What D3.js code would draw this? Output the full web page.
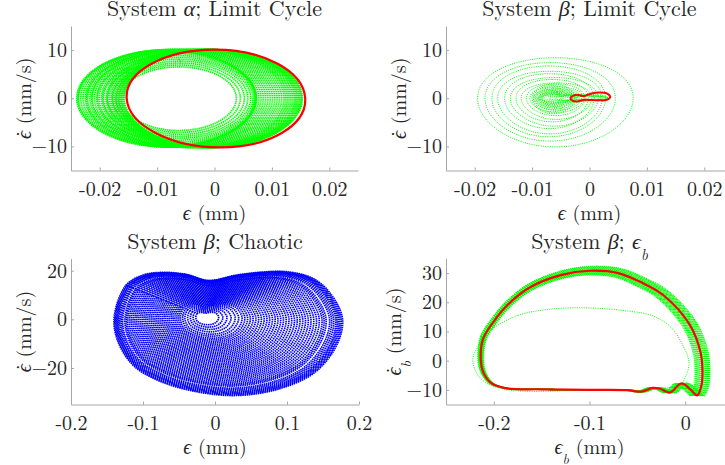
<!DOCTYPE html>
<html>
<head>
<meta charset="utf-8">
<script src="https://cdn.jsdelivr.net/npm/d3@7"></script>
<style>
body { margin: 0; background: #fff; }
</style>
</head>
<body>
<svg id="chart" width="725" height="465"></svg>
<script>
// ---- data ----

// System alpha, limit cycle: transient loops, extreme points of each loop
const alphaLeft = [-0.0162, -0.0167, -0.0172, -0.0178, -0.0187, -0.0195, -0.0204, -0.0214, -0.0223,
  -0.0238, -0.0240, -0.0237, -0.0233, -0.0229, -0.0225, -0.0221, -0.0217, -0.0213, -0.0209,
  -0.0205, -0.0201, -0.0197, -0.0193, -0.0189, -0.0186, -0.0183, -0.0180, -0.0177, -0.0174,
  -0.0171, -0.0169, -0.0167, -0.0165, -0.0163, -0.0161, -0.0159, -0.0158, -0.0157];
const alphaRight = [0.0038, 0.0045, 0.0052, 0.0058, 0.0063, 0.0067, 0.0070, 0.0072, 0.0073,
  0.0072, 0.0070, 0.0073, 0.0077, 0.0081, 0.0085, 0.0089, 0.0093, 0.0097, 0.0101,
  0.0105, 0.0109, 0.0113, 0.0117, 0.0121, 0.0124, 0.0127, 0.0130, 0.0133, 0.0136,
  0.0139, 0.0141, 0.0143, 0.0145, 0.0147, 0.0149, 0.0151, 0.0152, 0.0153];
const alphaTop = [6.5, 6.9, 7.3, 7.7, 8.1, 8.5, 8.9, 9.3, 9.6,
  9.9, 10.0, 10.1, 10.1, 10.1, 10.1, 10.1, 10.1, 10.1, 10.1,
  10.1, 10.1, 10.1, 10.1, 10.1, 10.1, 10.1, 10.1, 10.1, 10.1,
  10.1, 10.1, 10.1, 10.1, 10.1, 10.1, 10.1, 10.1, 10.1];
const alphaBottom = [-6.7, -7.1, -7.5, -7.9, -8.3, -8.7, -9.1, -9.5, -9.8,
  -10.0, -10.1, -10.1, -10.1, -10.1, -10.1, -10.1, -10.1, -10.1, -10.1,
  -10.2, -10.2, -10.2, -10.2, -10.2, -10.2, -10.2, -10.2, -10.2, -10.2,
  -10.2, -10.2, -10.2, -10.2, -10.2, -10.2, -10.2, -10.2, -10.2];
// limit cycle: left, top, right, bottom points
const alphaCycleX = [-0.0153, 0.0000, 0.0158, 0.0010];
const alphaCycleY = [0.0, 10.1, 0.0, -10.2];

// System beta, limit cycle: spiral loops
const betaLeft = [-0.0195, -0.0182, -0.0170, -0.0160, -0.0148, -0.0138, -0.0128, -0.0119, -0.0110,
  -0.0104, -0.0100, -0.0098, -0.0097, -0.0095, -0.0094, -0.0092, -0.0090, -0.0089, -0.0088, -0.0086,
  -0.0085, -0.0083, -0.0083, -0.0090, -0.0080, -0.0070, -0.0060, -0.0030, -0.0028, -0.0025];
const betaRight = [0.0076, 0.0045, 0.0028, 0.0022, 0.0008, 0.0015, -0.0002, 0.0004, -0.0008,
  -0.0010, -0.0026, -0.0030, -0.0014, -0.0034, -0.0018, -0.0038, -0.0022, -0.0042, -0.0026, -0.0046,
  -0.0030, -0.0050, -0.0034, 0.0010, 0.0020, 0.0030, 0.0033, 0.0034, 0.0032, 0.0030];
const betaTop = [8.4, 7.4, 6.7, 5.6, 5.1, 4.3, 3.9, 3.2, 3.0,
  2.4, 2.9, 2.6, 2.0, 2.2, 1.7, 1.9, 1.4, 1.6, 1.2, 1.3,
  1.0, 1.0, 0.8, 0.8, 0.6, 0.5, 0.6, 0.8, 0.6, 0.5];
const betaBottom = [-10.1, -8.9, -8.0, -7.4, -6.3, -5.8, -4.9, -4.4, -3.6,
  -3.0, -3.2, -2.8, -2.5, -2.4, -2.1, -2.0, -1.7, -1.7, -1.4, -1.4,
  -1.1, -1.1, -0.9, -0.8, -0.6, -0.5, -0.5, -0.5, -0.4, -0.3];
// limit cycle outline
const betaCycleX = [-0.0033, -0.0028, -0.0019, -0.0010, 0.0002, 0.0017, 0.0030, 0.0036,
  0.0030, 0.0015, 0.0000, -0.0010, -0.0020, -0.0029];
const betaCycleY = [0.05, 0.55, 0.70, 0.45, 0.95, 1.20, 1.00, 0.25,
  -0.35, -0.42, -0.35, -0.30, -0.65, -0.55];

// System beta, chaotic: outer loop of the attractor and the loop sizes inside it
const chaosOuterX = [-0.140, -0.124, -0.100, -0.073, -0.040, -0.009, 0.030, 0.065, 0.099, 0.135,
  0.159, 0.177, 0.170, 0.140, 0.090, 0.030, -0.030, -0.080, -0.114, -0.135];
const chaosOuterY = [1.0, 13.9, 18.2, 19.3, 18.5, 16.0, 18.2, 19.4, 19.6, 17.0,
  11.1, 0.5, -10.0, -21.5, -28.5, -31.3, -29.5, -25.0, -18.8, -9.0];
const chaosCenter = [-0.014, 1.0];
const chaosLoopSize = [0.10, 0.13, 0.16, 0.19, 0.22, 0.245, 0.27, 0.29, 0.31, 0.33, 0.35, 0.37,
  0.39, 0.41, 0.43, 0.45, 0.47, 0.49, 0.51, 0.53, 0.55, 0.57, 0.59, 0.61, 0.63, 0.65, 0.67,
  0.69, 0.71, 0.73, 0.75, 0.77, 0.79, 0.81, 0.83, 0.85, 0.865, 0.88, 0.905, 0.92, 0.935, 0.95,
  0.96, 0.97, 0.98, 0.99, 1.00];

// System beta, eps_b: limit cycle, first transient loop, spread of the settling loops
const ebCycleX = [-0.2137, -0.211, -0.200, -0.186, -0.163, -0.130, -0.100, -0.070, -0.047, -0.023,
  0.005, 0.016, 0.018, 0.017, 0.0125, 0.006, -0.004, -0.016, -0.026, -0.034,
  -0.046, -0.060, -0.100, -0.150, -0.188, -0.203, -0.211];
const ebCycleY = [0.5, 7.7, 13.5, 19.0, 25.0, 29.3, 30.8, 30.0, 27.0, 22.5,
  12.2, 3.0, -3.0, -8.5, -11.9, -10.0, -7.8, -10.9, -9.6, -9.3,
  -10.6, -10.1, -10.0, -9.8, -9.4, -7.6, -4.0];
const ebFirstX = [-0.201, -0.175, -0.150, -0.120, -0.090, -0.060, -0.035, -0.015, -0.002, 0.004,
  0.001, -0.005, -0.030, -0.100, -0.190, -0.214, -0.222, -0.214];
const ebFirstY = [11.0, 15.5, 17.3, 18.1, 17.9, 17.0, 15.5, 11.5, 5.0, -0.5,
  -5.0, -8.0, -9.8, -10.1, -9.7, -6.0, 0.5, 6.0];
const ebSpreadX = [0.955, 0.962, 0.968, 0.975, 0.982, 0.988, 0.994, 1.000, 1.006, 1.012, 1.018,
  1.024, 1.031, 1.038, 1.045];
const ebSpreadY = [0.965, 0.970, 0.975, 0.980, 0.985, 0.990, 0.995, 1.000, 1.005, 1.010, 1.015,
  1.020, 1.027, 1.032, 1.037];
const ebSpreadOrigin = [-0.15, -10];

// ticks
const smallTicks = [-0.02, -0.01, 0, 0.01, 0.02];
const smallTickLabels = ["-0.02", "-0.01", "0", "0.01", "0.02"];
const chaosXTicks = [-0.2, -0.1, 0, 0.1, 0.2];
const chaosXLabels = ["-0.2", "-0.1", "0", "0.1", "0.2"];
const ebXTicks = [-0.2, -0.1, 0];
const ebXLabels = ["-0.2", "-0.1", "0"];
const cycleYTicks = [-10, 0, 10];
const chaosYTicks = [-20, 0, 20];
const ebYTicks = [-10, 0, 10, 20, 30];

// ---- layout ----
const GREEN = "#00ff00", RED = "#ff0000", BLUE = "#0000ff";
const AXIS_COLOR = "#a6a6a6", TEXT_COLOR = "#262626";
const FONT = "Latin Modern Roman, Liberation Serif, serif";
const svg = d3.select("#chart");

const frames = [
  {left: 71, right: 358, top: 26, bottom: 170.5, xDom: [-0.025, 0.025], yDom: [-15, 15], yLab: 40},
  {left: 446, right: 733, top: 26, bottom: 170.5, xDom: [-0.025, 0.025], yDom: [-15, 15], yLab: 40},
  {left: 71, right: 359, top: 258.5, bottom: 404.5, xDom: [-0.2, 0.2], yDom: [-35, 25], yLab: 40},
  {left: 446, right: 733, top: 258.5, bottom: 404.5, xDom: [-0.25, 0.05], yDom: [-15, 35], yLab: 45}
];

function makePanel(f, xt, xl, yt) {
  const x = d3.scaleLinear().domain(f.xDom).range([f.left, f.right]);
  const y = d3.scaleLinear().domain(f.yDom).range([f.bottom, f.top]);
  const g = svg.append("g");
  const plot = g.append("g");
  const ax = g.append("g")
    .attr("transform", `translate(0,${f.bottom})`)
    .call(d3.axisBottom(x).tickValues(xt).tickFormat((d, i) => xl[i])
      .tickSizeInner(-3).tickSizeOuter(0).tickPadding(11));
  const ay = g.append("g")
    .attr("transform", `translate(${f.left},0)`)
    .call(d3.axisLeft(y).tickValues(yt).tickFormat(d => d3.format("d")(d))
      .tickSizeInner(-3).tickSizeOuter(0).tickPadding(4));
  [ax, ay].forEach(a => {
    a.select(".domain").attr("stroke", AXIS_COLOR);
    a.selectAll(".tick line").attr("stroke", AXIS_COLOR);
    a.selectAll(".tick text").attr("fill", TEXT_COLOR)
      .style("font-family", FONT).style("font-size", "20px");
  });
  return {x, y, g, plot, f};
}

// ellipse-like loop through its 4 extreme points
const loopLine = (x, y) => d3.line().x(d => x(d[0])).y(d => y(d[1]))
  .curve(d3.curveCardinalClosed.tension(-0.657));
const smoothLine = (x, y) => d3.line().x(d => x(d[0])).y(d => y(d[1]))
  .curve(d3.curveCatmullRomClosed);

function extremeLoop(l, r, t, b) {
  const c = (l + r) / 2;
  return [[l, 0], [c, t], [r, 0], [c, b]];
}

// rich text: plain, italic and subscript parts
function fillText(t, parts, subSize) {
  parts.forEach(s => {
    const ts = t.append("tspan").text(s.t);
    if (s.i) ts.style("font-style", "italic");
    if (s.sub) ts.attr("baseline-shift", "sub").style("font-size", subSize).style("font-style", "italic");
  });
}
function baseText(sel, size) {
  return sel.append("text").style("font-family", FONT).style("font-size", size)
    .attr("fill", TEXT_COLOR).attr("text-anchor", "middle");
}
function addTitle(p, parts) {
  const t = baseText(p.g, "22px").attr("x", (p.f.left + p.f.right) / 2).attr("y", p.f.top - 10);
  fillText(t, parts, "15px");
}
function addXLabel(p, parts) {
  const t = baseText(p.g, "20px").attr("x", (p.f.left + p.f.right) / 2).attr("y", p.f.bottom + 49);
  fillText(t, parts, "14px");
}
// y label: time derivative, so a dot is set over the first glyph
function addYLabel(p, parts) {
  const lg = p.g.append("g")
    .attr("transform", `translate(${p.f.left - p.f.yLab},${(p.f.top + p.f.bottom) / 2}) rotate(-90)`);
  const t = baseText(lg, "20px");
  fillText(t, parts, "14px");
  const e = t.node().getExtentOfChar(0);
  baseText(lg, "20px").attr("x", e.x + e.width / 2 + 1).attr("y", -1).text("\u02d9");
}

const EPS = "\u03f5";

// ---- panel 1: System alpha ----
const p1 = makePanel(frames[0], smallTicks, smallTickLabels, cycleYTicks);
const l1 = loopLine(p1.x, p1.y);
p1.plot.selectAll("path.tr").data(alphaLeft).enter().append("path")
  .attr("d", (d, i) => l1(extremeLoop(alphaLeft[i], alphaRight[i], alphaTop[i], alphaBottom[i])))
  .attr("fill", "none").attr("stroke", GREEN).attr("stroke-width", 1.7)
  .attr("stroke-dasharray", "1.4 0.7");
p1.plot.append("path")
  .attr("d", l1(alphaCycleX.map((v, i) => [v, alphaCycleY[i]])))
  .attr("fill", "none").attr("stroke", RED).attr("stroke-width", 2.2);
addTitle(p1, [{t: "System "}, {t: "\u03b1", i: true}, {t: "; Limit Cycle"}]);
addXLabel(p1, [{t: EPS, i: true}, {t: " (mm)"}]);
addYLabel(p1, [{t: EPS, i: true}, {t: " (mm/s)"}]);

// ---- panel 2: System beta, limit cycle ----
const p2 = makePanel(frames[1], smallTicks, smallTickLabels, cycleYTicks);
const l2 = loopLine(p2.x, p2.y);
p2.plot.selectAll("path.tr").data(betaLeft).enter().append("path")
  .attr("d", (d, i) => l2(extremeLoop(betaLeft[i], betaRight[i], betaTop[i], betaBottom[i])))
  .attr("fill", "none").attr("stroke", GREEN).attr("stroke-width", 1)
  .attr("stroke-dasharray", "1 1.3");
p2.plot.append("path")
  .attr("d", smoothLine(p2.x, p2.y)(betaCycleX.map((v, i) => [v, betaCycleY[i]])))
  .attr("fill", "none").attr("stroke", RED).attr("stroke-width", 2);
addTitle(p2, [{t: "System "}, {t: "\u03b2", i: true}, {t: "; Limit Cycle"}]);
addXLabel(p2, [{t: EPS, i: true}, {t: " (mm)"}]);
addYLabel(p2, [{t: EPS, i: true}, {t: " (mm/s)"}]);

// ---- panel 3: System beta, chaotic ----
const p3 = makePanel(frames[2], chaosXTicks, chaosXLabels, chaosYTicks);
const l3 = smoothLine(p3.x, p3.y);
p3.plot.selectAll("path.ch").data(chaosLoopSize).enter().append("path")
  .attr("d", s => l3(chaosOuterX.map((v, i) => [
    chaosCenter[0] + s * (v - chaosCenter[0]),
    chaosCenter[1] + s * (chaosOuterY[i] - chaosCenter[1])])))
  .attr("fill", "none").attr("stroke", BLUE).attr("stroke-width", 1.7)
  .attr("stroke-dasharray", "1.5 0.7");
addTitle(p3, [{t: "System "}, {t: "\u03b2", i: true}, {t: "; Chaotic"}]);
addXLabel(p3, [{t: EPS, i: true}, {t: " (mm)"}]);
addYLabel(p3, [{t: EPS, i: true}, {t: " (mm/s)"}]);

// ---- panel 4: System beta, eps_b ----
const p4 = makePanel(frames[3], ebXTicks, ebXLabels, ebYTicks);
const l4 = smoothLine(p4.x, p4.y);
p4.plot.append("path")
  .attr("d", l4(ebFirstX.map((v, i) => [v, ebFirstY[i]])))
  .attr("fill", "none").attr("stroke", GREEN).attr("stroke-width", 1)
  .attr("stroke-dasharray", "1 1.3");
p4.plot.selectAll("path.band").data(ebSpreadX).enter().append("path")
  .attr("d", (sx, k) => l4(ebCycleX.map((v, i) => [
    ebSpreadOrigin[0] + sx * (v - ebSpreadOrigin[0]),
    ebSpreadOrigin[1] + ebSpreadY[k] * (ebCycleY[i] - ebSpreadOrigin[1])])))
  .attr("fill", "none").attr("stroke", GREEN).attr("stroke-width", 1.3)
  .attr("stroke-dasharray", "1.2 0.8");
p4.plot.append("path")
  .attr("d", l4(ebCycleX.map((v, i) => [v, ebCycleY[i]])))
  .attr("fill", "none").attr("stroke", RED).attr("stroke-width", 2.2);
addTitle(p4, [{t: "System "}, {t: "\u03b2", i: true}, {t: "; "}, {t: EPS, i: true}, {t: "b", sub: true}]);
addXLabel(p4, [{t: EPS, i: true}, {t: "b", sub: true}, {t: " (mm)"}]);
addYLabel(p4, [{t: EPS, i: true}, {t: "b", sub: true}, {t: " (mm/s)"}]);
</script>
</body>
</html>
